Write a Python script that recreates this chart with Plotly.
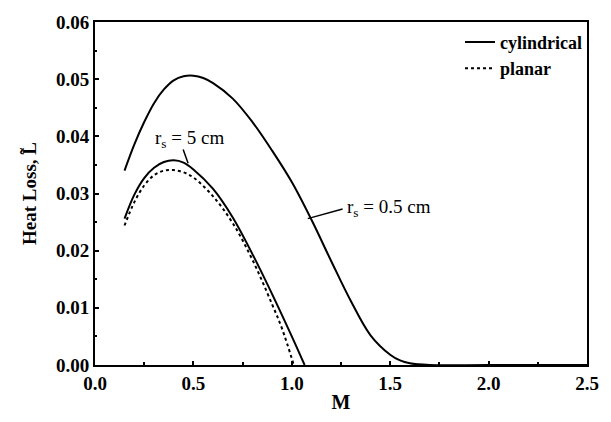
import plotly.graph_objects as go

# Cylindrical, r_s = 0.5 cm
m_cyl_05 = [0.15, 0.2, 0.25, 0.3, 0.35, 0.4, 0.45, 0.5, 0.55, 0.6, 0.7, 0.8, 0.9, 1.0,
            1.1, 1.2, 1.3, 1.4, 1.5, 1.55, 1.6, 1.7, 2.0, 2.5]
l_cyl_05 = [0.0340, 0.0386, 0.0425, 0.0458, 0.0482, 0.0498, 0.0505, 0.0506, 0.0502, 0.0493,
            0.0466, 0.0425, 0.0375, 0.0320, 0.0254, 0.0182, 0.0112, 0.0052, 0.0018, 0.0008,
            0.0003, 0.0, 0.0, 0.0]

# Cylindrical, r_s = 5 cm
m_cyl_5 = [0.15, 0.2, 0.25, 0.3, 0.35, 0.4, 0.45, 0.5, 0.6, 0.7, 0.8, 0.9, 1.0, 1.065]
l_cyl_5 = [0.0256, 0.0298, 0.0327, 0.0345, 0.0355, 0.0358, 0.0354, 0.0342, 0.0308, 0.0258,
           0.0194, 0.0124, 0.0050, 0.0]

# Planar
m_plan = [0.15, 0.2, 0.25, 0.3, 0.35, 0.4, 0.45, 0.5, 0.6, 0.7, 0.8, 0.9, 0.95, 1.01]
l_plan = [0.0244, 0.0285, 0.0314, 0.0332, 0.0340, 0.0341, 0.0337, 0.0328, 0.0295, 0.0248,
          0.0184, 0.0106, 0.0064, 0.0]

x_ticks = [0.0, 0.5, 1.0, 1.5, 2.0, 2.5]
y_ticks = [0.00, 0.01, 0.02, 0.03, 0.04, 0.05, 0.06]

FONT = "Liberation Serif"

fig = go.Figure()
fig.add_trace(go.Scatter(x=m_cyl_05, y=l_cyl_05, mode="lines", name="<b>cylindrical</b>",
                         line=dict(color="black", width=2, shape="spline", smoothing=1.0),
                         showlegend=True))
fig.add_trace(go.Scatter(x=m_cyl_5, y=l_cyl_5, mode="lines", name="<b>cylindrical</b>",
                         line=dict(color="black", width=2, shape="spline", smoothing=1.0),
                         showlegend=False))
fig.add_trace(go.Scatter(x=m_plan, y=l_plan, mode="lines", name="<b>planar</b>",
                         line=dict(color="black", width=2, dash="dot", shape="spline", smoothing=1.0),
                         showlegend=True))

axis_common = dict(showline=True, linecolor="black", linewidth=2, mirror=True,
                   ticks="inside", ticklen=4, tickwidth=1.5, tickcolor="black",
                   showgrid=False, zeroline=False,
                   tickfont=dict(family=FONT, size=19, color="black"))

fig.update_xaxes(range=[0, 2.5], tickvals=x_ticks, ticktext=[f"<b>{v:.1f}</b>" for v in x_ticks],
                 title=dict(text="<b>M</b>", font=dict(family=FONT, size=20, color="black"), standoff=2),
                 minor=dict(dtick=0.25, ticks="inside", ticklen=3, tickcolor="black"),
                 **axis_common)
fig.update_yaxes(range=[0, 0.06], tickvals=y_ticks, ticktext=[f"<b>{v:.2f}</b>" for v in y_ticks],
                 title=dict(text="<b>Heat Loss, L\u0303</b>", font=dict(family=FONT, size=19, color="black"), standoff=14),
                 minor=dict(dtick=0.005, ticks="inside", ticklen=2, tickcolor="black"),
                 **axis_common)

# pointer lines for the labels
fig.add_shape(type="line", xref="x", yref="y", x0=0.448, y0=0.0377, x1=0.473, y1=0.0353,
              line=dict(color="black", width=1.5))
fig.add_shape(type="line", xref="x", yref="y", x0=1.258, y0=0.0273, x1=1.081, y1=0.0256,
              line=dict(color="black", width=1.5))
fig.add_annotation(x=0.478, y=0.0396, text="r<sub>s</sub> = 5 cm", showarrow=False,
                   font=dict(family=FONT, size=19, color="black"), yanchor="middle", xanchor="center")
fig.add_annotation(x=1.27, y=0.0275, text="r<sub>s</sub> = 0.5 cm", showarrow=False,
                   font=dict(family=FONT, size=19, color="black"), xanchor="left", yanchor="middle")

fig.update_layout(width=611, height=422, plot_bgcolor="white", paper_bgcolor="white",
                  margin=dict(l=95, r=19, t=19, b=56),
                  legend=dict(x=1.0, y=0.995, xanchor="right", yanchor="top",
                              bgcolor="rgba(0,0,0,0)", borderwidth=0,
                              font=dict(family=FONT, size=18, color="black"),
                              itemwidth=30, tracegroupgap=0))
fig.write_html("out.html", config={"displayModeBar": False},
               post_script="document.body.style.margin='0px';document.body.style.overflow='hidden';")
